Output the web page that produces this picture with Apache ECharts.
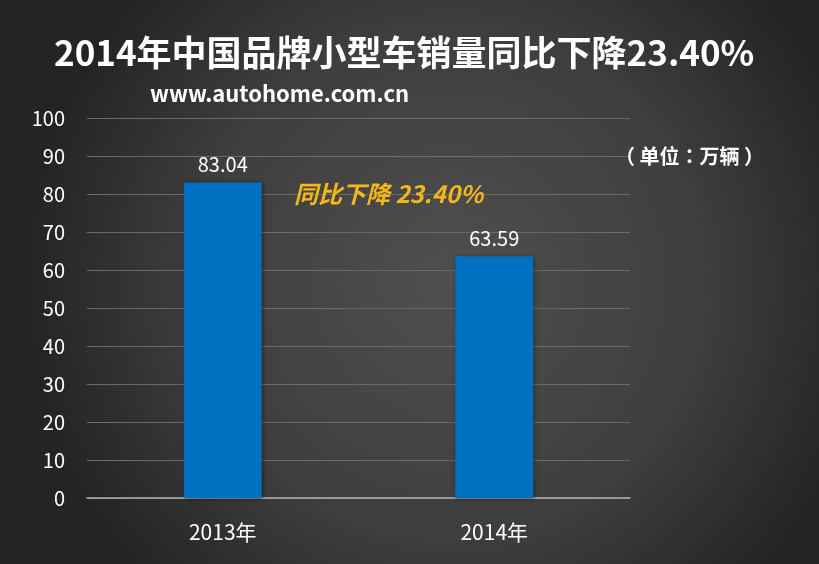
<!DOCTYPE html>
<html><head><meta charset="utf-8">
<script src="https://cdn.jsdelivr.net/npm/echarts@6/dist/echarts.min.js"></script>
<style>html,body{margin:0;padding:0;background:#333;}#c{width:819px;height:564px;}</style>
</head><body><div id="c"></div>
<script>
const categories = ['2013年', '2014年'];
const sales = [83.04, 63.59];
const yTicks = [0, 100, 10];
const titleText = '2014年中国品牌小型车销量同比下降23.40%';
const siteText = 'www.autohome.com.cn';
const unitText = '（ 单位：万辆 ）';
const noteText = '同比下降 23.40%';

const chart = echarts.init(document.getElementById('c'));
const font = '"Noto Sans CJK SC", "Noto Sans", sans-serif';
chart.setOption({
  backgroundColor: {
    type: 'radial', x: 0.55, y: 0.5, r: 0.75,
    colorStops: [{offset: 0, color: '#4f4f4f'}, {offset: 0.6, color: '#3e3e3e'}, {offset: 1, color: '#242424'}]
  },
  title: [
    {text: titleText, left: 49, top: 30, textStyle: {color: '#fff', fontSize: 35, fontWeight: 'bold', fontFamily: font}},
    {text: siteText, left: 145, top: 78, textStyle: {color: '#fff', fontSize: 22, fontWeight: 'bold', fontFamily: font}},
    {text: unitText, left: 610, top: 141, textStyle: {color: '#fff', fontSize: 20, fontWeight: 'bold', fontFamily: '"Noto Sans CJK TC", "Noto Sans CJK SC", sans-serif'}},
    {text: noteText, left: 289, top: 177, textStyle: {color: '#F2B718', fontSize: 24, fontWeight: 'bold', fontStyle: 'italic', fontFamily: font}}
  ],
  grid: {left: 87, right: 189, top: 118, bottom: 66, containLabel: false},
  xAxis: {
    type: 'category', data: categories,
    axisLine: {lineStyle: {color: '#b0b0b0', width: 1.5}},
    axisTick: {show: false},
    axisLabel: {color: '#fff', fontSize: 21, margin: 24, fontFamily: font}
  },
  yAxis: {
    type: 'value', min: yTicks[0], max: yTicks[1], interval: yTicks[2],
    axisLine: {show: false}, axisTick: {show: false},
    axisLabel: {color: '#fff', fontSize: 20, margin: 22, fontFamily: font},
    splitLine: {lineStyle: {color: '#6a6a6a', width: 1}}
  },
  series: [{
    type: 'bar', data: sales, barWidth: 78,
    itemStyle: {color: '#0070C0', shadowColor: 'rgba(0,0,0,0.45)', shadowBlur: 4, shadowOffsetX: 1, shadowOffsetY: 1},
    label: {show: true, position: 'top', distance: 8, color: '#fff', fontSize: 20, fontFamily: font,
      formatter: p => p.value.toFixed(2)}
  }]
});
</script></body></html>
